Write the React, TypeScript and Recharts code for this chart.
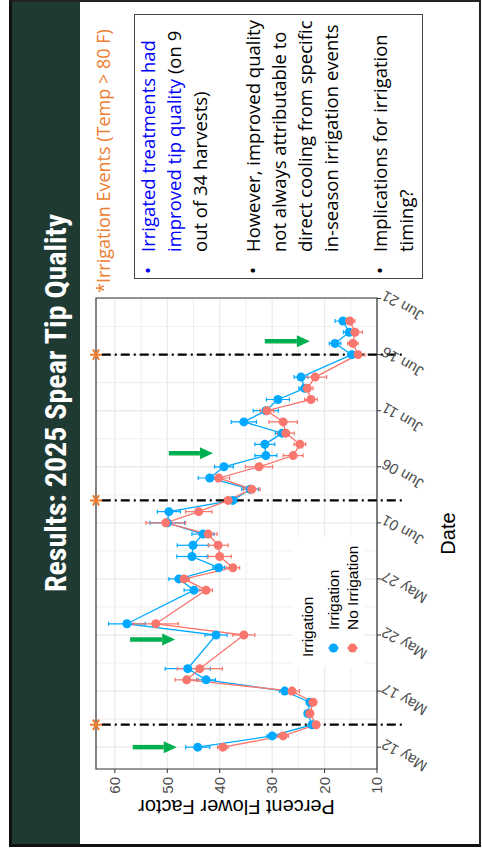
import React from 'react'
import {
  LineChart,
  Line,
  XAxis,
  YAxis,
  CartesianGrid,
  ErrorBar,
  ReferenceLine,
  ReferenceDot,
  ReferenceArea,
  Legend,
} from 'recharts'

// harvest days counted from May 12
const harvestDays = [0, 1, 2, 3, 4, 5, 6, 7, 10, 11, 14, 15, 16, 17, 18, 19, 20, 21, 22, 23, 24, 25, 26, 27, 28, 29, 30, 31, 32, 33, 35, 36, 37, 38]
const irrigation = [44.2, 30.0, 22.4, 23.2, 22.8, 27.6, 42.6, 46.1, 40.7, 57.7, 44.9, 47.8, 40.2, 45.3, 45.1, 43.2, 50.0, 49.7, 37.5, 34.2, 41.9, 39.2, 31.2, 31.4, 28.1, 35.4, 31.2, 28.9, 23.8, 24.5, 14.8, 18.0, 15.3, 16.5]
const irrigationSe = [2.3, 1.0, 0.6, 0.5, 0.6, 1.0, 1.8, 4.3, 2.1, 3.5, 1.9, 1.9, 1.1, 2.9, 3.0, 2.1, 3.3, 2.2, 0.8, 1.6, 2.2, 1.8, 2.1, 1.9, 1.3, 2.4, 2.4, 2.2, 1.1, 1.3, 0.8, 1.1, 1.1, 1.5]
const noIrrigation = [39.4, 27.9, 21.6, 22.8, 22.2, 26.2, 46.3, 43.8, 35.4, 52.2, 42.6, 46.8, 37.5, 40.0, 40.3, 42.2, 50.3, 44.0, 38.4, 33.9, 40.2, 32.5, 26.0, 24.7, 27.4, 27.9, 31.0, 22.6, 23.3, 21.8, 13.6, 14.6, 14.2, 15.2]
const noIrrigationSe = [1.0, 1.0, 0.6, 0.5, 0.6, 1.4, 2.2, 4.3, 2.1, 4.3, 1.2, 1.0, 1.3, 2.2, 1.9, 1.7, 3.8, 2.5, 0.8, 1.6, 2.1, 2.6, 1.9, 1.1, 1.6, 2.7, 1.3, 1.2, 1.1, 2.2, 1.3, 1.0, 1.4, 1.0]

const tickDays = [0, 5, 10, 15, 20, 25, 30, 35, 40]
const tickLabels = ['May 12', 'May 17', 'May 22', 'May 27', 'Jun 01', 'Jun 06', 'Jun 11', 'Jun 16', 'Jun 21']
const minorDays = [2.5, 7.5, 12.5, 17.5, 22.5, 27.5, 32.5, 37.5]
const yTicks = [10, 20, 30, 40, 50, 60]
const yMinor = [15, 25, 35, 45, 55]

// irrigation events (Temp > 80 F)
const irrigationEvents = [2, 22, 35]
// green arrows: day, start value, tip value
const arrowDays = [0, 9.6, 26.2, 36.2]
const arrowTops = [56.6, 57.1, 49.7, 31.4]
const arrowTips = [48.2, 48.5, 41.3, 22.8]

const X_DOMAIN: [number, number] = [-1.95, 40.05]
const Y_DOMAIN: [number, number] = [10, 63.6]
const EVENT_TOP = 62.5
const EVENT_BOTTOM = 4.6

const BLUE = '#00A9FF'
const RED = '#F8766D'
const GREEN = '#00B050'
const ORANGE = '#ED7D31'
const GRID = '#EBEBEB'
const AXIS_FONT = '"Liberation Sans", Arial, sans-serif'
const SLIDE_FONT = '"Open Sans", "Noto Sans", sans-serif'

const data = harvestDays.map((day, i) => ({
  day,
  irr: irrigation[i],
  irrSe: irrigationSe[i],
  noIrr: noIrrigation[i],
  noIrrSe: noIrrigationSe[i],
}))

function DateTick({ x, y, payload }: any) {
  const label = tickLabels[tickDays.indexOf(payload.value)]
  return (
    <text
      x={x + 4}
      y={y}
      dy="0.35em"
      transform={`rotate(-60, ${x + 4}, ${y})`}
      textAnchor="end"
      fill="#4d4d4d"
      fontSize={15}
      fontFamily={AXIS_FONT}
    >
      {label}
    </text>
  )
}

function Arrow({ x1, y1, x2, y2 }: any) {
  const head = 13
  const dir = y2 > y1 ? 1 : -1
  const by = y2 - dir * head
  return (
    <g>
      <line x1={x1} y1={y1} x2={x2} y2={by} stroke={GREEN} strokeWidth={4.5} />
      <polygon points={`${x2 - 6},${by} ${x2 + 6},${by} ${x2},${y2}`} fill={GREEN} />
    </g>
  )
}

function Asterisk({ cx, cy }: any) {
  const r = 6
  return (
    <g stroke={ORANGE} strokeWidth={2}>
      {[90, 30, 150].map((a) => {
        const dx = r * Math.cos((a * Math.PI) / 180)
        const dy = r * Math.sin((a * Math.PI) / 180)
        return <line key={a} x1={cx - dx} y1={cy - dy} x2={cx + dx} y2={cy + dy} />
      })}
    </g>
  )
}

function IrrigationLegend({ payload }: any) {
  const items = (payload || []).filter((p: any) => p.type !== 'none')
  return (
    <div
      style={{
        background: '#fff',
        width: 130,
        height: 72,
        boxSizing: 'border-box',
        padding: '5px 0 0 10px',
        fontFamily: AXIS_FONT,
        fontSize: 15.5,
        color: '#000',
        textAlign: 'left',
        whiteSpace: 'nowrap',
      }}
    >
      <div style={{ lineHeight: '20px' }}>Irrigation</div>
      {items.map((p: any, i: number) => (
        <div key={p.value} style={{ display: 'flex', alignItems: 'center', height: 19, marginTop: i === 0 ? 6 : 0 }}>
          <svg width={18} height={19} style={{ flexShrink: 0 }}>
            <line x1={9} y1={4} x2={9} y2={15} stroke={p.color} strokeWidth={1.2} />
            <circle cx={9} cy={9.5} r={4.5} fill={p.color} />
          </svg>
          <span style={{ marginLeft: 9, lineHeight: '19px' }}>{p.value}</span>
        </div>
      ))}
    </div>
  )
}

const bulletStyle: React.CSSProperties = {
  position: 'absolute',
  left: 582,
  width: 12,
  fontSize: 18.5,
  lineHeight: '26px',
}

const paraStyle: React.CSSProperties = {
  position: 'absolute',
  left: 604,
  fontSize: 18.5,
  lineHeight: '26px',
  whiteSpace: 'nowrap',
  color: '#000',
}

export default function App() {
  return (
    <div style={{ position: 'absolute', left: 0, top: 0, width: 482, height: 856, overflow: 'hidden', background: '#fff' }}>
      <div
        style={{
          position: 'absolute',
          left: 0,
          top: 0,
          width: 856,
          height: 482,
          transformOrigin: '0 0',
          transform: 'translate(0px, 856px) rotate(-90deg)',
          background: '#fff',
          fontFamily: SLIDE_FONT,
        }}
      >
        <div
          style={{
            position: 'absolute',
            left: 9,
            top: 9,
            width: 847,
            height: 472,
            boxSizing: 'border-box',
            borderLeft: '3px solid #111',
            borderTop: '3px solid #111',
            borderRight: '2px solid #222',
            borderBottom: '2px solid #222',
          }}
        />
        <div style={{ position: 'absolute', left: 12, top: 12, width: 842, height: 68, background: '#1F3A33' }} />
        <div
          style={{
            position: 'absolute',
            left: 153,
            top: 38,
            width: 600,
            textAlign: 'center',
            color: '#fff',
            fontFamily: '"Liberation Sans Narrow", "Roboto Condensed", "Liberation Sans", sans-serif',
            fontWeight: 700,
            fontSize: 30,
            lineHeight: '36px',
          }}
        >
          Results: 2025 Spear Tip Quality
        </div>

        <div style={{ position: 'absolute', left: 0, top: 60 }}>
          <LineChart width={580} height={420} data={data} margin={{ top: 36, right: 22, bottom: 13, left: 17 }}>
            <CartesianGrid stroke={GRID} strokeWidth={0.8} horizontalValues={yMinor} verticalValues={minorDays} />
            <CartesianGrid stroke={GRID} strokeWidth={1.4} horizontalValues={yTicks} verticalValues={tickDays} />
            <XAxis
              dataKey="day"
              type="number"
              domain={X_DOMAIN}
              ticks={tickDays}
              interval={0}
              allowDataOverflow
              height={90}
              axisLine={false}
              tickLine={{ stroke: '#333' }}
              tickSize={4}
              tickMargin={2}
              tick={<DateTick />}
              label={{ value: 'Date', position: 'insideBottom', offset: 12, fontSize: 20, fill: '#000', fontFamily: AXIS_FONT }}
            />
            <YAxis
              type="number"
              domain={Y_DOMAIN}
              ticks={yTicks}
              allowDataOverflow
              width={70}
              axisLine={false}
              tickLine={{ stroke: '#333' }}
              tickSize={4}
              tickMargin={4}
              tick={{ fontSize: 15, fill: '#4d4d4d', fontFamily: AXIS_FONT }}
              label={{
                value: 'Percent Flower Factor',
                angle: -90,
                position: 'center',
                dx: -3,
                fontSize: 20,
                fill: '#000',
                fontFamily: AXIS_FONT,
              }}
            />
            <ReferenceArea
              x1={X_DOMAIN[0]}
              x2={X_DOMAIN[1]}
              y1={Y_DOMAIN[0]}
              y2={Y_DOMAIN[1]}
              fill="none"
              stroke="#333"
              strokeWidth={1.2}
              ifOverflow="visible"
            />
            <Line
              dataKey="irr"
              name="Irrigation"
              stroke={BLUE}
              strokeWidth={1.3}
              dot={{ r: 4.5, fill: BLUE, stroke: BLUE, strokeWidth: 0 }}
              activeDot={false}
              isAnimationActive={false}
            >
              <ErrorBar dataKey="irrSe" width={2} stroke={BLUE} strokeWidth={1.2} isAnimationActive={false} />
            </Line>
            <Line
              dataKey="noIrr"
              name="No Irrigation"
              stroke={RED}
              strokeWidth={1.3}
              dot={{ r: 4.5, fill: RED, stroke: RED, strokeWidth: 0 }}
              activeDot={false}
              isAnimationActive={false}
            >
              <ErrorBar dataKey="noIrrSe" width={2} stroke={RED} strokeWidth={1.2} isAnimationActive={false} />
            </Line>
            {irrigationEvents.map((d) => (
              <ReferenceLine
                key={`ev${d}`}
                segment={[
                  { x: d, y: EVENT_TOP },
                  { x: d, y: EVENT_BOTTOM },
                ]}
                stroke="#000"
                strokeWidth={2.2}
                strokeDasharray="9 4 2 4"
                ifOverflow="visible"
              />
            ))}
            {irrigationEvents.map((d) => (
              <ReferenceDot key={`ast${d}`} x={d} y={Y_DOMAIN[1]} r={6} shape={<Asterisk />} ifOverflow="visible" />
            ))}
            {arrowDays.map((d, i) => (
              <ReferenceLine
                key={`ar${d}`}
                segment={[
                  { x: d, y: arrowTops[i] },
                  { x: d, y: arrowTips[i] },
                ]}
                shape={Arrow}
                ifOverflow="visible"
              />
            ))}
            <Legend
              layout="vertical"
              align="center"
              verticalAlign="middle"
              wrapperStyle={{ left: 189, top: 233, width: 130 }}
              content={(props: any) => <IrrigationLegend payload={props.payload} />}
            />
          </LineChart>
        </div>

        <div
          style={{
            position: 'absolute',
            left: 563,
            top: 90,
            fontSize: 18,
            lineHeight: '26px',
            color: ORANGE,
            whiteSpace: 'nowrap',
          }}
        >
          *Irrigation Events (Temp &gt; 80 F)
        </div>

        <div
          style={{
            position: 'absolute',
            left: 577,
            top: 134,
            width: 265,
            height: 289,
            boxSizing: 'border-box',
            border: '1px solid #444',
          }}
        />
        <div style={{ ...bulletStyle, top: 135, color: '#0000FF' }}>•</div>
        <div style={{ ...paraStyle, top: 135 }}>
          <span style={{ color: '#0000FF' }}>Irrigated treatments had</span>
          <br />
          <span style={{ color: '#0000FF' }}>improved tip quality</span> (on 9
          <br />
          out of 34 harvests)
        </div>
        <div style={{ ...bulletStyle, top: 240 }}>•</div>
        <div style={{ ...paraStyle, top: 240 }}>
          However, improved quality
          <br />
          not always attributable to
          <br />
          direct cooling from specific
          <br />
          in-season irrigation events
        </div>
        <div style={{ ...bulletStyle, top: 367 }}>•</div>
        <div style={{ ...paraStyle, top: 367 }}>
          Implications for irrigation
          <br />
          timing?
        </div>
      </div>
    </div>
  )
}
